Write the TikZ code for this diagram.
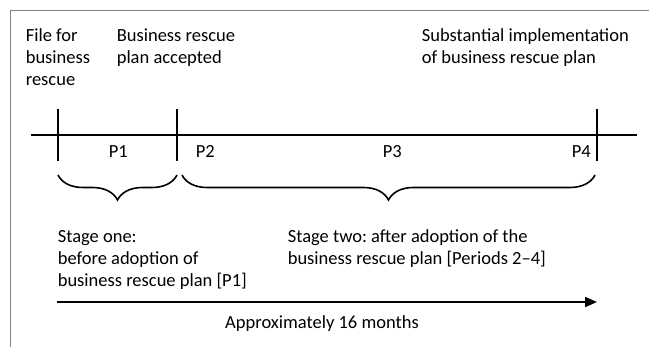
\documentclass[tikz,border=0pt]{standalone}
\usepackage{fontspec}
\setmainfont{Carlito}
\frenchspacing
\usetikzlibrary{decorations.pathreplacing,arrows.meta}

\begin{document}
\begin{tikzpicture}[x=1pt, y=-1pt, line width=1.6pt,
    txt/.style={align=left, anchor=base west, inner sep=0pt,
      font=\fontsize{18.5}{22}\selectfont},
    per/.style={anchor=base west, inner sep=0pt, font=\fontsize{18.5}{22}\selectfont},
    curly/.style={decorate, decoration={brace, mirror, amplitude=25pt}}]

    \useasboundingbox (0,0) rectangle (649,347);
    \draw[gray, line width=1pt] (10,347) -- (10,11) -- (649,11);

    % events above the line (placed at the baseline of their last line)
    \node[txt] (file) at (25,86) {File for\\business\\rescue};
    \node[txt] (accepted) at (116,64) {Business rescue\\plan accepted};
    \node[txt] (impl) at (421,64) {Substantial implementation\\of business rescue plan};

    % time line and ticks
    \coordinate (start) at (31,135);
    \coordinate (end) at (637,135);
    \draw[line width=1.5pt] (start) -- (end);
    \foreach \n/\x in {1/58,2/177,3/597} {
      \coordinate (t\n top) at (\x,109);
      \coordinate (t\n bot) at (\x,161);
      \draw[line width=2pt] (t\n top) -- (t\n bot);
    }

    \node[per] (p1) at (108,158) {P1};
    \node[per] (p2) at (195,158) {P2};
    \node[per] (p3) at (382,158) {P3};
    \node[per] (p4) at (571,158) {P4};

    % stages
    \coordinate (b1l) at (58,175);
    \coordinate (b1r) at (177,175);
    \coordinate (b2l) at (182,175);
    \coordinate (b2r) at (595,175);
    \draw[curly] (b1l) -- (b1r);
    \draw[curly] (b2l) -- (b2r);

    \node[txt] (one) at (57,287) {Stage one:\\before adoption of\\business rescue plan [P1]};
    \node[txt] (two) at (287,265) {Stage two: after adoption of the\\business rescue plan [Periods 2--4]};

    % duration
    \coordinate (a0) at (57,302);
    \coordinate (a1) at (597,302);
    \draw[-{Triangle[length=12pt,width=10pt]}, line width=2pt] (a0) -- (a1);
    \node[per, anchor=base] (months) at (322,329) {Approximately 16 months};
\end{tikzpicture}
\end{document}
